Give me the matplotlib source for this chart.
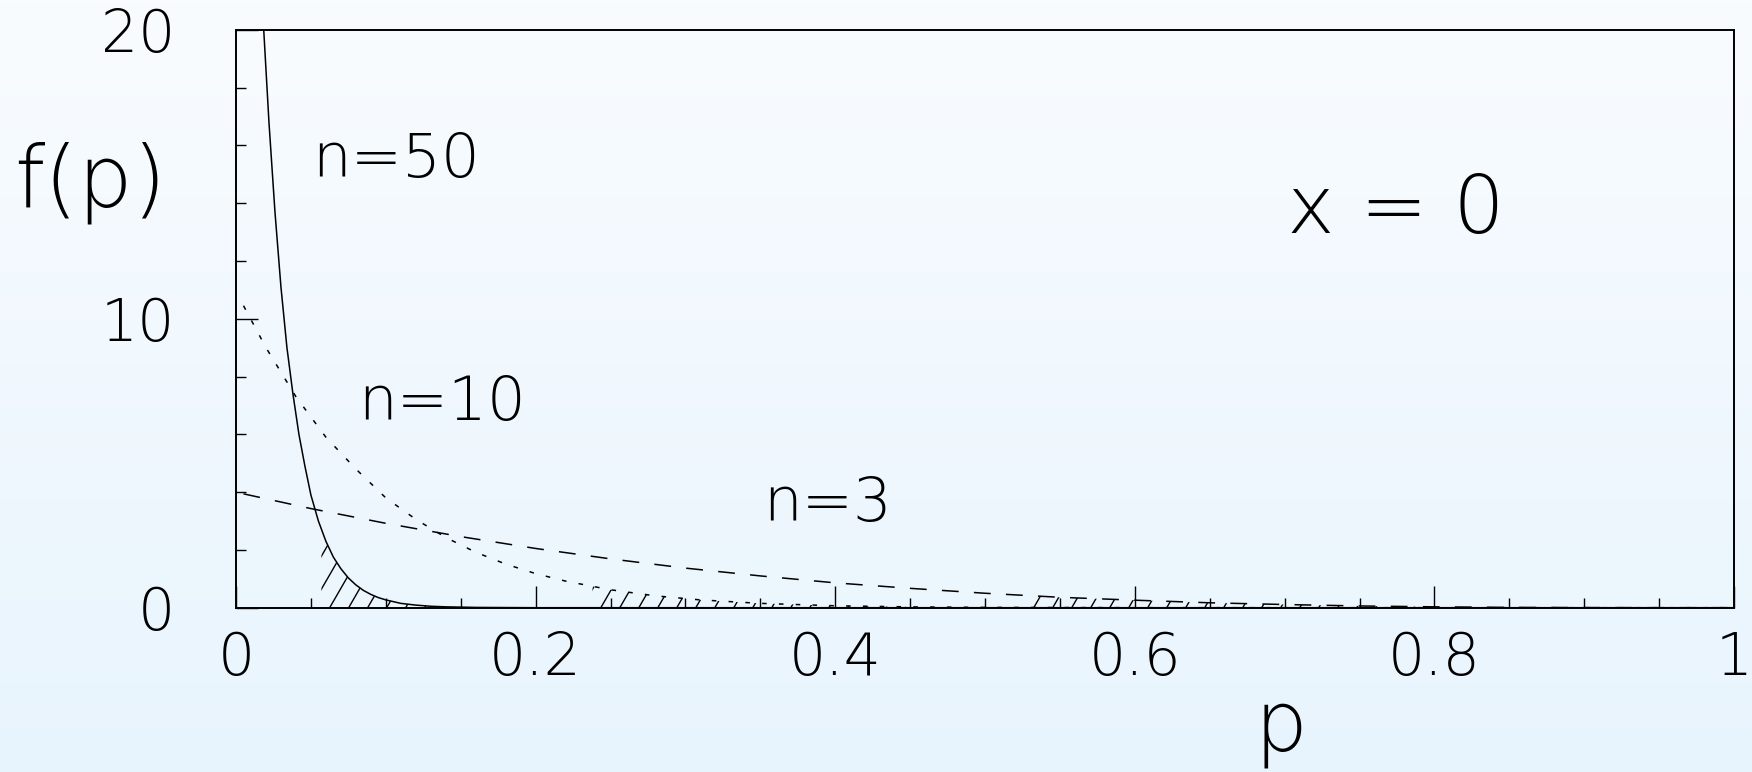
import numpy as np
import matplotlib
matplotlib.use("Agg")
import matplotlib.pyplot as plt
from matplotlib import font_manager as fm
from matplotlib.ticker import MultipleLocator, FixedLocator, FixedFormatter

# f(p) for x = 0
p_n50 = [0.0185, 0.022, 0.026, 0.030, 0.034, 0.038, 0.042, 0.046, 0.050, 0.055,
         0.060, 0.065, 0.070, 0.075, 0.080, 0.085, 0.090, 0.095, 0.100, 0.110,
         0.120, 0.130, 0.140, 0.160, 0.200, 1.0]
f_n50 = [20.0, 16.8, 13.7, 11.1, 9.0, 7.4, 6.0, 4.9, 3.9, 3.0,
         2.3, 1.75, 1.35, 1.03, 0.79, 0.60, 0.46, 0.35, 0.27, 0.15,
         0.09, 0.05, 0.03, 0.01, 0.0, 0.0]

p_n10 = [0.005, 0.02, 0.04, 0.06, 0.08, 0.10, 0.12, 0.14, 0.16, 0.18, 0.20,
         0.22, 0.25, 0.28, 0.31, 0.35, 0.40, 0.45, 0.50, 0.60, 0.70, 1.0]
f_n10 = [10.45, 9.0, 7.3, 5.9, 4.8, 3.8, 3.06, 2.43, 1.92, 1.51, 1.18,
         0.92, 0.62, 0.41, 0.27, 0.15, 0.066, 0.028, 0.011, 0.001, 0.0, 0.0]

p_n3 = [0.005, 0.05, 0.10, 0.15, 0.20, 0.25, 0.30, 0.35, 0.40, 0.45, 0.50,
        0.55, 0.60, 0.65, 0.70, 0.75, 0.80, 0.85, 0.90, 0.95, 1.0]
f_n3 = [3.94, 3.43, 2.92, 2.46, 2.05, 1.69, 1.37, 1.10, 0.86, 0.67, 0.50,
        0.36, 0.26, 0.17, 0.11, 0.06, 0.03, 0.01, 0.004, 0.0005, 0.0]

# where the hatched upper tail starts for each n
tail_n50 = 0.057
tail_n10 = 0.238
tail_n3 = 0.527

xtick_pos = [0, 0.2, 0.4, 0.6, 0.8, 1.0]
xtick_lab = ["0", "0.2", "0.4", "0.6", "0.8", "1"]
ytick_pos = [0, 10, 20]
ytick_lab = ["0", "10", "20"]


# thin font if there is one, the reference uses a stroke font
def pick_font():
    for fam in ["DejaVu Sans", "Roboto", "Open Sans", "Lato", "Noto Sans"]:
        for f in fm.fontManager.ttflist:
            w = f.weight if isinstance(f.weight, int) else fm.weight_dict.get(f.weight, 400)
            if f.name == fam and w <= 300 and f.style == "normal":
                return fam, w
    return "DejaVu Sans", 400

fam, wgt = pick_font()
plt.rcParams["font.family"] = [fam, "DejaVu Sans"]
plt.rcParams["font.weight"] = wgt

W, H = 1752, 772
fig = plt.figure(figsize=(W / 100, H / 100), dpi=100)

# background gradient, white at the top to pale blue at the bottom
bg = fig.add_axes([0, 0, 1, 1], zorder=-10)
top = np.array([0.976, 0.988, 1.0])
bot = np.array([0.91, 0.958, 0.993])
t = np.linspace(0, 1, 256)[:, None]
grad = top[None, :] * (1 - t) + bot[None, :] * t
bg.imshow(grad[:, None, :], aspect="auto", extent=[0, 1, 0, 1])
bg.axis("off")

ax = fig.add_axes([236 / W, 1 - 607.7 / H, 1498 / W, 578 / H])
ax.set_facecolor("none")
ax.set_xlim(0, 1)
ax.set_ylim(0, 20)

ax.plot(p_n50, f_n50, color="k", lw=1.1, ls="-")
ax.plot(p_n10, f_n10, color="k", lw=1.1, ls=(0, (3, 8)))
ax.plot(p_n3, f_n3, color="k", lw=1.1, ls=(0, (11, 10)))

# hatch the tails with lines at 60 degrees, clipped to the area under the curve
px_x = 1498 / 1.0
px_y = 578 / 20.0
dx = 20 / (np.tan(np.radians(60)) * px_x / px_y)
step = 19 / px_x
for pp, ff, lim in [(p_n50, f_n50, tail_n50), (p_n10, f_n10, tail_n10), (p_n3, f_n3, tail_n3)]:
    pp = np.array(pp)
    ff = np.array(ff)
    tp = np.concatenate([[lim], pp[pp > lim]])
    tf = np.interp(tp, pp, ff)
    poly = ax.fill_between(tp, tf, 0, facecolor="none", edgecolor="none")
    path = poly.get_paths()[0]
    for c in np.arange(lim - dx, tp[-1], step):
        ln, = ax.plot([c, c + dx], [0, 20], color="k", lw=1.0)
        ln.set_clip_path(path, ax.transData)

for s in ax.spines.values():
    s.set_linewidth(1.4)

ax.xaxis.set_major_locator(FixedLocator(xtick_pos))
ax.xaxis.set_major_formatter(FixedFormatter(xtick_lab))
ax.xaxis.set_minor_locator(MultipleLocator(0.05))
ax.yaxis.set_major_locator(FixedLocator(ytick_pos))
ax.yaxis.set_major_formatter(FixedFormatter(ytick_lab))
ax.yaxis.set_minor_locator(MultipleLocator(2))
ax.tick_params(which="both", direction="in", top=False, right=False, width=1.0)
ax.tick_params(which="major", length=16)
ax.tick_params(which="minor", length=7.5)
ax.tick_params(axis="x", which="major", labelsize=42, pad=16)
ax.tick_params(axis="y", which="major", labelsize=42, pad=44)

# labels and annotations, placed in figure pixels
def ftext(x, y, s, size, ha="left"):
    fig.text(x / W, 1 - y / H, s, fontsize=size, ha=ha, va="baseline")

ftext(312, 177, "n=50", 44)
ftext(358, 420, "n=10", 44)
ftext(763, 521, "n=3", 44)
ftext(1287, 233, "x = 0", 58)
ftext(14, 206, "f(p)", 62)
ftext(1254, 751, "p", 60)

fig.savefig("out.png", dpi=100)
